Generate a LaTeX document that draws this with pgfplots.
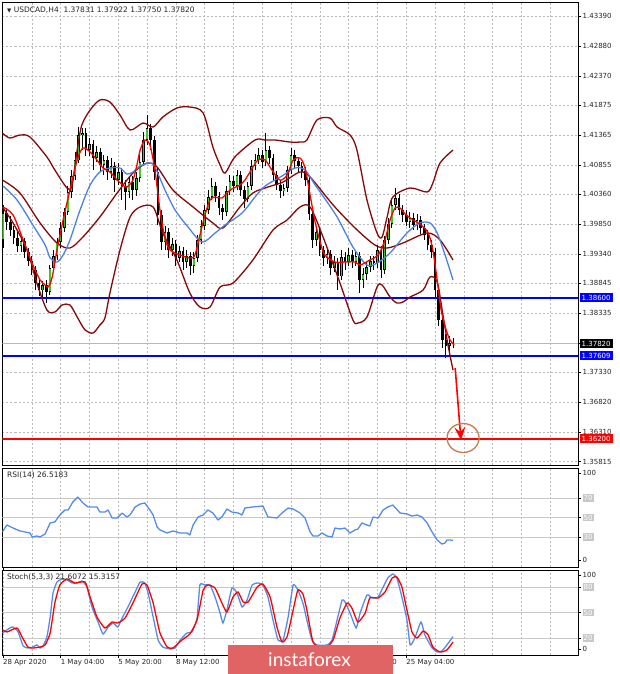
\documentclass[border=0pt]{standalone}
\usepackage{pgfplots}
\pgfplotsset{compat=1.18}
\usepackage{pgfplotstable}
\usepackage{fontspec}
\setmainfont{DejaVu Sans}
\newfontfamily\wmfont{Lato}
\usetikzlibrary{arrows.meta}

\definecolor{bbred}{RGB}{135,8,8}
\definecolor{mablue}{RGB}{75,130,230}
\definecolor{rsiblue}{RGB}{85,140,235}
\definecolor{cgreen}{RGB}{60,200,40}
\definecolor{gridgray}{RGB}{185,185,185}
\definecolor{lvlgray}{RGB}{200,200,200}
\definecolor{wmred}{RGB}{224,100,100}
\definecolor{circ}{RGB}{195,125,80}
\newcommand\lvl[1]{{\setlength{\fboxsep}{1pt}\colorbox{lvlgray}{\textcolor{white}{#1}}}}

\pgfplotstableread{
i o h l c
0 1.39580 1.40175 1.39444 1.40039
1 1.40039 1.40124 1.39750 1.39886
2 1.39886 1.39988 1.39648 1.39750
3 1.39750 1.39818 1.39512 1.39614
4 1.39614 1.39716 1.39376 1.39478
5 1.39478 1.39648 1.39376 1.39563
6 1.39563 1.39614 1.39274 1.39376
7 1.39376 1.39444 1.39138 1.39223
8 1.39223 1.39308 1.38985 1.39070
9 1.39070 1.39138 1.38730 1.38849
10 1.38849 1.38934 1.38628 1.38730
11 1.38730 1.38883 1.38594 1.38815
12 1.38815 1.38900 1.38509 1.38696
13 1.38696 1.39155 1.38645 1.39104
14 1.39104 1.39410 1.39036 1.39308
15 1.39308 1.39614 1.39240 1.39546
16 1.39546 1.39886 1.39444 1.39784
17 1.39784 1.40124 1.39716 1.40056
18 1.40056 1.40498 1.40005 1.40396
19 1.40396 1.40770 1.40294 1.40668
20 1.40668 1.41076 1.40600 1.40940
21 1.40940 1.41501 1.40889 1.41365
22 1.41365 1.41484 1.41110 1.41399
23 1.41399 1.41484 1.41008 1.41110
24 1.41110 1.41314 1.41008 1.41212
25 1.41212 1.41280 1.40770 1.40974
26 1.40974 1.41178 1.40906 1.41076
27 1.41076 1.41144 1.40736 1.40855
28 1.40855 1.41025 1.40685 1.40940
29 1.40940 1.41008 1.40600 1.40736
30 1.40736 1.40974 1.40634 1.40838
31 1.40838 1.40906 1.40396 1.40600
32 1.40600 1.40889 1.40515 1.40736
33 1.40736 1.40804 1.40260 1.40498
34 1.40498 1.40600 1.40090 1.40396
35 1.40396 1.40668 1.40294 1.40566
36 1.40566 1.40668 1.40260 1.40430
37 1.40430 1.40736 1.40328 1.40634
38 1.40634 1.41025 1.40566 1.40906
39 1.40906 1.41416 1.40855 1.41280
40 1.41280 1.41705 1.41195 1.41484
41 1.41484 1.41552 1.41110 1.41280
42 1.41280 1.41348 1.40600 1.40736
43 1.40736 1.40804 1.39835 1.40005
44 1.40005 1.40090 1.39410 1.39546
45 1.39546 1.39818 1.39410 1.39716
46 1.39716 1.39784 1.39274 1.39410
47 1.39410 1.39614 1.39308 1.39512
48 1.39512 1.39580 1.39138 1.39274
49 1.39274 1.39478 1.39206 1.39393
50 1.39393 1.39461 1.39070 1.39206
51 1.39206 1.39410 1.39104 1.39308
52 1.39308 1.39376 1.38985 1.39138
53 1.39138 1.39376 1.39019 1.39274
54 1.39274 1.39665 1.39206 1.39580
55 1.39580 1.39920 1.39512 1.39818
56 1.39818 1.40175 1.39750 1.40090
57 1.40090 1.40430 1.40022 1.40311
58 1.40311 1.40634 1.40260 1.40498
59 1.40498 1.40566 1.40226 1.40328
60 1.40328 1.40396 1.40005 1.40124
61 1.40124 1.40192 1.39920 1.40056
62 1.40056 1.40498 1.39988 1.40413
63 1.40413 1.40685 1.40345 1.40583
64 1.40583 1.40668 1.40396 1.40498
65 1.40498 1.40770 1.40430 1.40685
66 1.40685 1.40753 1.40328 1.40430
67 1.40430 1.40498 1.40124 1.40277
68 1.40277 1.40566 1.40226 1.40498
69 1.40498 1.40940 1.40430 1.40838
70 1.40838 1.41042 1.40770 1.40940
71 1.40940 1.41144 1.40872 1.41025
72 1.41025 1.41110 1.40804 1.40906
73 1.40906 1.41399 1.40838 1.41110
74 1.41110 1.41178 1.40872 1.40974
75 1.40974 1.41042 1.40600 1.40685
76 1.40685 1.40753 1.40430 1.40515
77 1.40515 1.40600 1.40294 1.40413
78 1.40413 1.40532 1.40328 1.40464
79 1.40464 1.40838 1.40396 1.40770
80 1.40770 1.41144 1.40702 1.41025
81 1.41025 1.41110 1.40804 1.40923
82 1.40923 1.40991 1.40736 1.40838
83 1.40838 1.40906 1.40634 1.40753
84 1.40753 1.40821 1.40498 1.40600
85 1.40600 1.40668 1.39920 1.40022
86 1.40022 1.40090 1.39444 1.39580
87 1.39580 1.39818 1.39478 1.39716
88 1.39716 1.39784 1.39308 1.39410
89 1.39410 1.39478 1.39138 1.39274
90 1.39274 1.39444 1.39172 1.39342
91 1.39342 1.39410 1.38985 1.39104
92 1.39104 1.39308 1.39036 1.39206
93 1.39206 1.39274 1.38730 1.38968
94 1.38968 1.39410 1.38900 1.39291
95 1.39291 1.39376 1.39070 1.39206
96 1.39206 1.39444 1.39138 1.39325
97 1.39325 1.39410 1.39104 1.39206
98 1.39206 1.39410 1.39138 1.39308
99 1.39308 1.39376 1.38679 1.38900
100 1.38900 1.39104 1.38764 1.39002
101 1.39002 1.39206 1.38900 1.39121
102 1.39121 1.39308 1.39036 1.39223
103 1.39223 1.39308 1.39070 1.39189
104 1.39189 1.39495 1.39104 1.39410
105 1.39410 1.39478 1.38934 1.39070
106 1.39070 1.39648 1.39002 1.39580
107 1.39580 1.39954 1.39512 1.39852
108 1.39852 1.40294 1.39784 1.40175
109 1.40175 1.40464 1.40090 1.40294
110 1.40294 1.40362 1.40005 1.40090
111 1.40090 1.40175 1.39886 1.40005
112 1.40005 1.40090 1.39818 1.39886
113 1.39886 1.40056 1.39784 1.39954
114 1.39954 1.40039 1.39750 1.39835
115 1.39835 1.40022 1.39750 1.39920
116 1.39920 1.39988 1.39682 1.39784
117 1.39784 1.39852 1.39580 1.39665
118 1.39665 1.39750 1.39410 1.39495
119 1.39495 1.39580 1.39274 1.39376
120 1.39376 1.39444 1.38594 1.38730
121 1.38730 1.38815 1.38118 1.38220
122 1.38220 1.38305 1.37744 1.37880
123 1.37880 1.37982 1.37574 1.37778
124 1.37778 1.37948 1.37676 1.37831
125 1.37831 1.37922 1.37750 1.37820
}\candles

\pgfplotsset{
  panel/.style={
    scale only axis, width=575.5pt,
    xmin=-0.14, xmax=159.72,
    axis line style={black, line width=0.8pt},
    xmajorgrids,
    major grid style={gridgray, dash pattern=on 2pt off 2pt, line width=0.5pt},
    minor grid style={gridgray, dash pattern=on 2pt off 2pt, line width=0.5pt},
    xtick style={draw=none},
    ytick style={black, line width=0.6pt},
    ytick pos=right, yticklabel pos=right,
    tick align=outside,
    major tick length=3pt,
    tick label style={font=\fontsize{7}{8}\selectfont, text=black!85},
    yticklabel style={anchor=west, inner sep=1.5pt},
  },
}

\begin{document}
\begin{tikzpicture}[x=1pt,y=1pt]
\useasboundingbox (0,0) rectangle (620,674);
\fill[white] (0,0) rectangle (620,674);

% ---------------- main price panel ----------------
\begin{axis}[panel, at={(2.5pt,209pt)}, anchor=south west, height=462.5pt,
  ymin=1.35755, ymax=1.43618, ymajorgrids,
  xtick={8,16,...,152}, xticklabels={},
  ytick={1.35815,1.36310,1.36820,1.37330,1.37825,1.38335,1.38845,1.39340,1.39850,1.40360,1.40855,1.41365,1.41875,1.42370,1.42880,1.43390},
  yticklabels={1.35815,1.36310,1.36820,1.37330,1.37825,1.38335,1.38845,1.39340,1.39850,1.40360,1.40855,1.41365,1.41875,1.42370,1.42880,1.43390},
]
% current price line
\addplot[gray!55, line width=0.6pt, forget plot] coordinates {(-1,1.37820) (170,1.37820)};
% wicks
\addplot[draw=none, mark=none, forget plot, error bars/.cd, y dir=both, y explicit, error mark=none,
  error bar style={draw=black, solid, line width=0.7pt}]
  table[x=i, y expr={(\thisrow{h}+\thisrow{l})/2}, y error expr={(\thisrow{h}-\thisrow{l})/2}] {\candles};
% bodies (outline)
\addplot[draw=none, mark=none, forget plot, error bars/.cd, y dir=both, y explicit, error mark=none,
  error bar style={draw=black, solid, line width=2.6pt}]
  table[x=i, y expr={(\thisrow{o}+\thisrow{c})/2}, y error expr={max(abs(\thisrow{c}-\thisrow{o})/2,0.00005)}] {\candles};
% bullish fill
\addplot[draw=none, mark=none, forget plot, error bars/.cd, y dir=both, y explicit, error mark=none,
  error bar style={draw=cgreen, solid, line width=1.4pt}]
  table[x=i, y expr={(\thisrow{o}+\thisrow{c})/2}, y error expr={(\thisrow{c}>\thisrow{o})*max(abs(\thisrow{c}-\thisrow{o})/2-0.0001,0)}] {\candles};

\addplot[blue, line width=1.7pt, forget plot] coordinates {(-1,1.38600) (170,1.38600)};
\addplot[blue, line width=1.7pt, forget plot] coordinates {(-1,1.37609) (170,1.37609)};
\addplot[red, line width=1.6pt, forget plot] coordinates {(-1,1.36200) (170,1.36200)};

% Bollinger bands
\addplot[bbred, line width=1.3pt, smooth, tension=0.5] coordinates {
(-0.2,1.41399) (1.9,1.41314) (4.7,1.41365) (7.5,1.41331) (12.2,1.40991) (14.4,1.40770) (17.8,1.40464) (19.2,1.40515) (20.6,1.41110) (21.9,1.41535) (24.2,1.41790) (26.9,1.41960) (29.7,1.41926) (32.5,1.41705) (35.3,1.41450) (38.9,1.41569) (41.7,1.41501) (44.4,1.41671) (48.3,1.41824) (51.9,1.41841) (55.6,1.41739) (58.3,1.41161) (60.3,1.40855) (61.7,1.40719) (64.4,1.40991) (70,1.41280) (72.8,1.41280) (75.6,1.41280) (79.7,1.41246) (82.5,1.41246) (84.4,1.41280) (87.2,1.41620) (90.8,1.41654) (92.8,1.41501) (96.4,1.41365) (98.3,1.41110) (101.1,1.40260) (103.9,1.39699) (105.3,1.39631) (106.7,1.39971) (108.3,1.40311) (113.1,1.40464) (117.8,1.40396) (119.4,1.40549) (121.4,1.40889) (125,1.41110)};
\addplot[bbred, line width=1.3pt, smooth, tension=0.5] coordinates {
(-0.2,1.40600) (4.7,1.40379) (10.3,1.39869) (15,1.39529) (18.6,1.39444) (22.2,1.39631) (26.9,1.39971) (31.7,1.40379) (36.1,1.40719) (40,1.40889) (42.8,1.40821) (47.2,1.40430) (52.8,1.40141) (58.3,1.39869) (61.1,1.39784) (65.8,1.40141) (69.4,1.40379) (73.6,1.40481) (77.8,1.40566) (82.5,1.40736) (85.3,1.40651) (91.7,1.40175) (97.8,1.39784) (103.3,1.39495) (106.7,1.39444) (111.1,1.39529) (117.8,1.39699) (121.4,1.39580) (125,1.39240)};
\addplot[bbred, line width=1.3pt, smooth, tension=0.5] coordinates {
(-0.2,1.40141) (2.8,1.39869) (6.7,1.39410) (9.4,1.38849) (12.2,1.38390) (14.4,1.38356) (16.4,1.38475) (18.6,1.38475) (20.6,1.38271) (22.8,1.38050) (25,1.37999) (26.9,1.38135) (28.3,1.38254) (29.7,1.38679) (32.5,1.39410) (35.3,1.39971) (38.1,1.40141) (41.7,1.40141) (44.4,1.39699) (48.3,1.39240) (51.9,1.38679) (54.7,1.38441) (57.5,1.38441) (60.3,1.38781) (63.9,1.38849) (69.4,1.39240) (75,1.39750) (78.9,1.39920) (82.5,1.40141) (85.3,1.40141) (88.9,1.39631) (93.6,1.38849) (97.2,1.38220) (98.6,1.38169) (101.1,1.38271) (103.9,1.38781) (105.3,1.38815) (107.5,1.38611) (109.4,1.38509) (111.1,1.38526) (113.1,1.38611) (116.7,1.38730) (118.6,1.38951) (120.6,1.38866) (122.2,1.38305) (123.6,1.37795) (125,1.37370)};
% slow MA (blue)
\addplot[mablue, line width=1.3pt, smooth, tension=0.5] coordinates {
(0,1.40498) (3.9,1.40260) (8.3,1.39835) (11.7,1.39495) (13.1,1.39274) (15,1.39206) (16.7,1.39325) (18.6,1.39580) (21.4,1.40090) (24.2,1.40515) (26.9,1.40736) (29.7,1.40804) (32.5,1.40804) (34.4,1.40702) (36.1,1.40736) (38.1,1.40838) (40.8,1.40889) (42.2,1.40821) (45,1.40430) (47.8,1.40090) (51.4,1.39801) (55.3,1.39546) (58.9,1.39699) (61.7,1.39835) (66.4,1.40039) (70,1.40311) (72.8,1.40498) (77.5,1.40668) (81.1,1.40804) (83.9,1.40770) (86.7,1.40515) (88.1,1.40396) (92.8,1.39971) (97.2,1.39461) (101.1,1.39155) (103.9,1.39189) (107.5,1.39359) (112.2,1.39699) (115.8,1.39869) (118.6,1.39869) (120.6,1.39699) (122.8,1.39325) (125,1.38900)};
% fast MA (red)
\addplot[red, line width=1.3pt, smooth, tension=0.5] coordinates {
(0,1.40141) (2.8,1.40005) (5.6,1.39580) (8.3,1.39155) (10.3,1.38900) (11.7,1.38815) (12.5,1.38781) (13.6,1.38934) (15,1.39410) (16.7,1.39920) (18.6,1.40430) (20.6,1.40940) (22.2,1.41144) (24.2,1.41076) (26.1,1.40940) (27.8,1.40804) (29.7,1.40736) (31.7,1.40600) (33.3,1.40515) (34.4,1.40481) (36.1,1.40600) (37.2,1.40855) (38.1,1.41110) (39.4,1.41280) (40.8,1.41195) (42.2,1.40770) (43.6,1.40090) (45,1.39614) (46.4,1.39410) (49.2,1.39325) (51.9,1.39274) (53.3,1.39325) (54.7,1.39665) (56.1,1.40005) (57.5,1.40260) (58.9,1.40311) (60.8,1.40294) (63.1,1.40430) (65.8,1.40515) (67.2,1.40600) (68.6,1.40736) (70.8,1.40940) (72.8,1.40940) (74.7,1.40770) (76.9,1.40600) (78.9,1.40685) (80.6,1.40940) (82.5,1.40974) (83.9,1.40804) (85.3,1.40345) (86.7,1.39886) (88.1,1.39546) (89.4,1.39325) (92.2,1.39206) (95,1.39206) (97.8,1.39206) (99.2,1.39155) (101.9,1.39240) (104.2,1.39325) (106.1,1.39580) (107.5,1.39920) (108.9,1.40124) (110.3,1.40124) (111.7,1.40022) (113.9,1.39920) (115.8,1.39852) (118.1,1.39699) (119.4,1.39410) (120.6,1.38900) (121.7,1.38390) (123.1,1.38050) (124.2,1.37880) (125.3,1.37795)};

% annotation: arrow and circle
\draw[red, line width=1.6pt, -{Stealth[length=13pt, width=11pt, inset=5pt]}] (axis cs:125.6,1.37404) -- (axis cs:127.2,1.36180);
\draw[circ, line width=1.3pt] (axis cs:127.8,1.36214) ellipse [x radius=16pt, y radius=14.5pt];

\node[anchor=base west, xshift=4.5pt, yshift=-10pt, inner sep=0pt, font=\fontsize{7.5}{9}\selectfont, text=black!85] at (rel axis cs:0,1) {{\fontsize{5.5}{6}\selectfont ▼}\ USDCAD,H4\ \ 1.37831 1.37922 1.37750 1.37820};

\coordinate (p1) at (axis cs:159.72,1.38600);
\coordinate (p2) at (axis cs:159.72,1.37820);
\coordinate (p3) at (axis cs:159.72,1.37609);
\coordinate (p4) at (axis cs:159.72,1.36200);
\end{axis}

\begin{scope}[every node/.style={anchor=west, inner xsep=2pt, inner ysep=0pt, minimum height=9pt, text=white, font=\fontsize{7}{8}\selectfont}]
\node[fill=blue, xshift=1.5pt] at (p1) {1.38600};
\node[fill=black, xshift=1.5pt] at (p2) {1.37820};
\node[fill=blue, xshift=1.5pt] at (p3) {1.37609};
\node[fill=red, xshift=1.5pt] at (p4) {1.36200};
\end{scope}

% ---------------- RSI panel ----------------
\begin{axis}[panel, at={(2.5pt,107pt)}, anchor=south west, height=99pt,
  ymin=-0.8, ymax=100.8,
  xtick={8,16,...,152}, xticklabels={},
  ytick={30,50,70}, yticklabels={\lvl{30},\lvl{50},\lvl{70}},
  extra y ticks={6.4,95.6}, extra y tick labels={0,100},
]
\addplot[lvlgray, line width=0.8pt, forget plot] coordinates {(-1,30) (170,30)};
\addplot[lvlgray, line width=0.8pt, forget plot] coordinates {(-1,50) (170,50)};
\addplot[lvlgray, line width=0.8pt, forget plot] coordinates {(-1,70) (170,70)};
\addplot[rsiblue, line width=1.3pt, line join=round] coordinates {
(-0.2,35.1) (1.1,42.3) (2.8,39.2) (4.7,36.2) (7.5,34.1) (8.1,30) (9.4,31) (10.3,30) (11.7,33.1) (13.1,44.4) (14.4,45.4) (15.8,52.6) (17.2,57.7) (18.1,57.7) (19.4,65.9) (20.8,71) (22.2,64.9) (23.6,60.8) (26.1,60.8) (26.9,55.6) (28.3,55.6) (29.2,57.7) (30.3,49.5) (31.7,49.5) (33.1,54.6) (34.4,50.5) (35.3,52.6) (36.7,60.8) (38.1,63.8) (39.4,64.9) (40.8,57.7) (41.7,52.6) (42.8,40.3) (43.6,37.2) (45.6,34.1) (47.2,36.2) (49.2,34.1) (51.1,34.1) (51.9,32.1) (52.8,42.3) (54.2,50.5) (55.6,52.6) (56.9,57.7) (58.3,54.6) (59.7,47.4) (60.8,50.5) (62.2,58.7) (63.6,55.6) (65.3,54.6) (66.4,52.6) (67.2,59.7) (69.4,60.8) (72.2,61.8) (73.6,50.5) (76.1,49.5) (77.5,54.6) (79.2,59.7) (80.6,58.7) (82.5,54.6) (83.9,49.5) (85.3,35.1) (86.1,31) (87.5,31) (88.6,34.1) (90,31) (91.4,30) (92.2,39.2) (93.6,38.2) (95,39.2) (96.4,34.1) (97.8,37.2) (98.6,38.2) (99.7,44.4) (101.1,42.3) (101.9,41.3) (102.8,50.5) (104.2,49.5) (105.6,57.7) (106.9,60.8) (108.3,62.8) (110.3,54.6) (112.2,53.6) (113.6,51.5) (115,52.6) (116.4,50.5) (117.8,44.4) (119.2,35.1) (120.6,26.9) (121.9,22.8) (122.8,23.8) (123.3,26.9) (124.2,26.9) (125,26.5)};
\node[anchor=base west, xshift=4.5pt, yshift=-10pt, inner sep=0pt, font=\fontsize{7.5}{9}\selectfont, text=black!85] at (rel axis cs:0,1) {RSI(14) 26.5183};
\end{axis}

% ---------------- Stochastic panel ----------------
\begin{axis}[panel, at={(2.5pt,19pt)}, anchor=south west, height=85pt,
  ymin=0, ymax=100,
  xtick={0,16,...,112},
  xticklabels={28 Apr 2020,1 May 04:00,5 May 20:00,8 May 12:00,,,19 May 12:00,25 May 04:00},
  xtick style={draw=black, line width=0.6pt},
  minor xtick={8,24,40,56,72,88,104,120,128,136,144,152},
  xminorgrids, minor tick length=0pt,
  xticklabel style={anchor=north west, inner sep=1pt, xshift=-1pt},
  ytick={20,50,80}, yticklabels={\lvl{20},\lvl{50},\lvl{80}},
  extra y ticks={7.1,94.1}, extra y tick labels={0,100},
]
\addplot[lvlgray, line width=0.8pt, forget plot] coordinates {(-1,20) (170,20)};
\addplot[lvlgray, line width=0.8pt, forget plot] coordinates {(-1,50) (170,50)};
\addplot[lvlgray, line width=0.8pt, forget plot] coordinates {(-1,80) (170,80)};
\addplot[rsiblue, line width=1.3pt, smooth, tension=0.3] coordinates {
(-0.2,25.9) (1.9,31.8) (2.8,32.9) (4.2,27.1) (5.6,10.6) (6.9,8.2) (8.3,9.4) (9.4,11.8) (10.3,8.2) (11.1,10.6) (12.2,21.2) (13.1,44.7) (13.9,72.9) (15,85.9) (16.4,89.4) (17.8,88.2) (19.2,84.7) (20.6,84.7) (21.9,87.1) (23.3,80) (24.7,56.5) (26.4,38.8) (27.8,24.7) (29.2,32.9) (30.6,37.6) (31.9,32.9) (33.1,43.5) (34.7,56.5) (36.7,74.1) (38.1,85.9) (39.4,84.7) (40.3,72.9) (41.7,44.7) (43.1,17.6) (44.4,9.4) (46.4,7.1) (47.8,8.2) (49.2,17.6) (51.1,25.9) (52.5,27.1) (53.9,43.5) (54.7,82.4) (56.1,82.4) (57.5,82.4) (58.9,68.2) (60.3,49.4) (61.1,37.6) (62.2,52.9) (63.6,78.8) (65,72.9) (66.4,56.5) (67.8,64.7) (69.2,82.4) (70.8,84.7) (72.2,82.4) (73.6,68.2) (75,41.2) (76.4,17.6) (77.8,17.6) (79.2,44.7) (80.6,82.4) (81.9,76.5) (83.3,61.2) (84.4,41.2) (85.8,17.6) (87.2,11.8) (90,11.8) (91.4,17.6) (92.8,41.2) (94.2,64.7) (95,62.4) (96.4,49.4) (98.1,31.8) (99.2,49.4) (101.1,70.6) (102.5,67.1) (104.2,68.2) (105.6,80) (106.9,90.6) (108.3,95.3) (109.4,90.6) (110.8,68.2) (112.2,41.2) (113.1,11.8) (114.4,20) (116.1,38.8) (117.2,23.5) (119.2,8.2) (120.6,3.5) (121.9,4.7) (123.3,11.8) (125,21.6)};
\addplot[red, line width=1.3pt, smooth, tension=0.3] coordinates {
(-0.2,29.4) (1.1,27.1) (3.9,31.8) (5.3,21.2) (6.9,9.4) (8.3,8.2) (10.3,9.4) (11.7,11.8) (13.1,25.9) (14.4,61.2) (15.8,82.4) (17.8,89.4) (20,84.7) (22.8,85.9) (24.2,68.2) (26.1,44.7) (28.3,31.8) (30.3,38.8) (31.9,37.6) (33.9,43.5) (36.1,61.2) (38.6,83.5) (40,82.4) (41.7,61.2) (43.6,25.9) (45.6,9.4) (47.2,8.2) (49.7,17.6) (51.9,24.7) (53.9,41.2) (55.6,76.5) (56.9,82.4) (58.9,78.8) (60.8,61.2) (62.2,50.6) (63.9,68.2) (65.3,74.1) (66.7,62.4) (68.1,62.4) (70.6,80) (72.2,83.5) (74.2,68.2) (76.1,32.9) (77.5,15.3) (78.9,21.2) (80.6,52.9) (81.9,76.5) (83.3,71.8) (84.4,52.9) (86.1,15.3) (88.1,9.4) (90.3,10.6) (91.7,17.6) (93.6,43.5) (95.6,61.2) (96.9,55.3) (98.6,38.8) (100.6,49.4) (101.9,67.1) (104.2,67.1) (106.1,74.1) (108.1,90.6) (109.4,91.8) (110.8,80) (112.2,52.9) (113.6,27.1) (115,20) (116.7,28.2) (118.1,23.5) (119.4,9.4) (121.4,3.5) (123.3,5.9) (125,15.3)};
\node[anchor=base west, xshift=4.5pt, yshift=-10pt, inner sep=0pt, font=\fontsize{7.5}{9}\selectfont, text=black!85] at (rel axis cs:0,1) {Stoch(5,3,3) 21.6072 15.3157};
\end{axis}

% watermark
\fill[wmred] (228,0) rectangle (393,29);
\node[white, anchor=base, inner sep=0pt, font=\wmfont\fontsize{19}{19}\selectfont] at (309.5,8) {instaforex};
\end{tikzpicture}
\end{document}
